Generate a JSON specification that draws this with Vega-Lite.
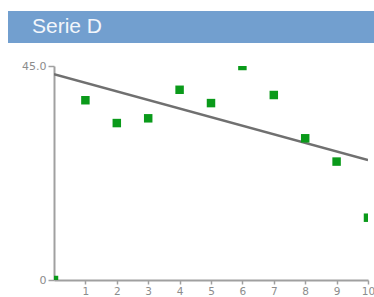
{
  "$schema": "https://vega.github.io/schema/vega-lite/v6.json",
  "padding": {"left": 8, "top": 11, "right": 0, "bottom": 0},
  "config": {
    "font": "DejaVu Sans",
    "view": {"stroke": null}
  },
  "spacing": 17,
  "vconcat": [
    {
      "width": 366,
      "height": 32,
      "view": {"fill": "#729fcf", "stroke": null},
      "title": {
        "text": "Serie D",
        "anchor": "start",
        "orient": "top",
        "offset": -26,
        "dx": 24,
        "fontSize": 21,
        "fontWeight": "normal",
        "font": "Liberation Sans",
        "color": "#f2f6fb"
      },
      "data": {"values": [{}]},
      "mark": {"type": "point", "opacity": 0},
      "encoding": {}
    },
    {
      "spacing": 0,
      "hconcat": [
        {
          "width": 1,
          "height": 214,
          "data": {"values": []},
          "mark": {"type": "point", "opacity": 0},
          "encoding": {}
        },
        {
          "width": 314,
          "height": 214,
          "encoding": {
            "x": {
              "field": "x", "type": "quantitative",
              "scale": {"domain": [0, 10], "nice": false},
              "axis": {
                "title": null, "grid": false, "values": [1,2,3,4,5,6,7,8,9,10], "format": "d",
                "domainColor": "#a0a0a0", "domainWidth": 2, "tickColor": "#a0a0a0", "tickSize": 4, "tickWidth": 1.5,
                "labelColor": "#8c8c8c", "labelFontSize": 10.5, "labelPadding": 2,
                "labelFlush": false, "labelOverlap": false, "labelSeparation": 0, "labelBound": false
              }
            },
            "y": {
              "field": "y", "type": "quantitative",
              "scale": {"domain": [0, 45], "nice": false},
              "axis": {
                "title": null, "grid": false, "values": [0, 45],
                "labelExpr": "datum.value == 0 ? '0' : format(datum.value, '.1f')",
                "domainColor": "#a0a0a0", "domainWidth": 2, "tickColor": "#a0a0a0", "tickSize": 6, "tickWidth": 1.5,
                "labelColor": "#8c8c8c", "labelFontSize": 11, "labelPadding": 2, "minExtent": 45
              }
            }
          },
          "layer": [
            {
              "data": {"values": [
                {"x": 0, "y": 43.3},
                {"x": 10, "y": 25.2}
              ]},
              "mark": {"type": "line", "color": "#707070", "strokeWidth": 2.5, "clip": true}
            },
            {
              "data": {"values": [
                {"x": 0, "y": 0},
                {"x": 1, "y": 37.8},
                {"x": 2, "y": 33.0},
                {"x": 3, "y": 34.0},
                {"x": 4, "y": 40.0},
                {"x": 5, "y": 37.2},
                {"x": 6, "y": 45.0},
                {"x": 7, "y": 38.9},
                {"x": 8, "y": 29.8},
                {"x": 9, "y": 24.9},
                {"x": 10, "y": 13.1}
              ]},
              "mark": {"type": "square", "filled": true, "color": "#0a9a1a", "opacity": 1, "size": 72, "clip": true}
            }
          ]
        }
      ]
    }
  ]
}
